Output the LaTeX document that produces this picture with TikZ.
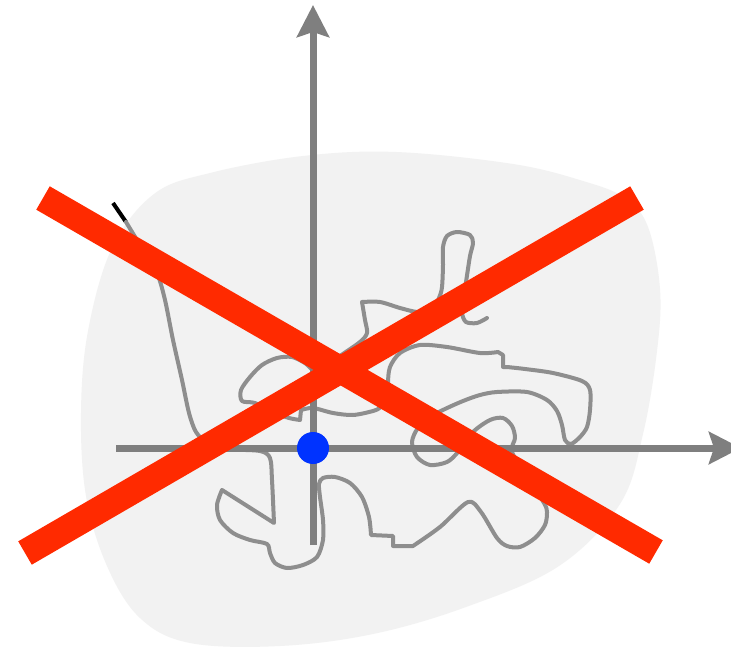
\documentclass[tikz,border=0pt]{standalone}
\usetikzlibrary{arrows.meta}
\definecolor{blobgray}{HTML}{F2F2F2}
\definecolor{curvegray}{HTML}{8E8E8E}
\definecolor{axisgray}{HTML}{7F7F7F}
\definecolor{crossred}{HTML}{FF2A00}
\definecolor{dotblue}{HTML}{0033FF}
\tikzset{
  blob/.style={fill=blobgray, draw=none},
  squiggle/.style={draw=curvegray, line width=4pt, line join=round, line cap=round},
  tipstroke/.style={draw=black, line width=4pt},
  axisline/.style={draw=axisgray, line width=7pt, -{Stealth[length=32pt,width=32pt,inset=5pt]}},
  crossline/.style={draw=crossred, line width=27pt, line cap=butt},
  dotnode/.style={circle, fill=dotblue, draw=none, minimum size=32pt, inner sep=0pt}
}
\begin{document}
\begin{tikzpicture}[x=1pt,y=-1pt]
\useasboundingbox (0,0) rectangle (731,647);
\fill[white] (0,0) rectangle (731,647);
% background blob
\path[blob] plot[smooth cycle, tension=0.6] coordinates {
 (396,152) (513,164) (583,181) (625,198) (648,227) (660,289) (657,351)
 (643,434) (620,504) (559,566) (466,607) (373,634) (280,646) (190,643)
 (140,618) (107,566) (86,496) (81,413) (88,331) (112,248) (154,194)
 (210,173) (303,156)};
% squiggle curve
\draw[tipstroke] (113,203) -- (126,222);
\draw[squiggle]
 plot[smooth, tension=0.5] coordinates {
 (126,222) (143,250) (157,273) (165,300) (173,340) (182,380) (189,413)
 (196,432) (207,442) (230,449) (260,451) (270,458) (272,480) (274,523)}
 -- (222,490)
 -- plot[smooth, tension=0.5] coordinates {
 (222,490) (217,505) (220,520) (233,533) (250,540) (267,544) (270,553)
 (275,563) (287,568) (303,565) (317,557) (323,540) (323,520) (320,497)
 (319,484) (323,478) (335,477) (350,483) (362,497) (369,517) (371,535)}
 -- (393,536) -- (393,546) -- (413,546)
 -- plot[smooth, tension=0.5] coordinates {
 (413,546) (440,527) (468,502) (481,512) (497,538) (507,546) (520,547)
 (535,538) (545,525) (547,512) (544,503) (528,478) (512,452) (515,438)
 (512,426) (503,418) (490,420) (473,432) (458,452) (447,462) (430,465)
 (417,457) (412,442) (418,428) (432,416) (445,409) (463,401) (480,395)
 (497,392) (527,392) (547,400) (557,411) (562,425) (565,440) (571,444)
 (580,437) (587,427) (590,410) (590,390) (582,381) (553,373) (525,369)
 (507,367)}
 -- (503,367) -- (503,355) -- (498,352)
 -- plot[smooth, tension=0.5] coordinates {
 (498,352) (480,353) (447,347) (420,345) (400,353) (390,367) (388,383)
 (389,398) (381,407) (373,411) (353,415) (333,413) (313,408) (301,410)}
 -- (300,420)
 -- plot[smooth, tension=0.5] coordinates {
 (300,420) (289,418) (272,412) (255,403) (242,401) (241,390) (250,377)
 (262,365) (277,358) (292,357) (305,363) (318,372) (340,356) (360,342)
 (367,333) (365,320) (362,302)}
 -- plot[smooth, tension=0.5] coordinates {
 (362,302) (380,302) (400,308) (417,312) (431,311) (439,298) (442,287)
 (443,265) (443,247) (447,236) (457,232) (470,235) (473,243) (470,256)
 (466,282) (463,300) (462,313) (466,322) (477,323) (487,318)};
% axes
\coordinate (xstart) at (116,448);
\coordinate (xend) at (741,448);
\coordinate (ystart) at (313,545);
\coordinate (yend) at (313,5);
\draw[axisline] (xstart) -- (xend);
\draw[axisline] (ystart) -- (yend);
% origin dot
\node[dotnode] (origin) at (313,448) {};
% red cross
\coordinate (aA) at (43,198);
\coordinate (aB) at (656,552);
\coordinate (bA) at (25,553);
\coordinate (bB) at (637,198);
\draw[crossline] (aA) -- (aB);
\draw[crossline] (bA) -- (bB);
\end{tikzpicture}
\end{document}
